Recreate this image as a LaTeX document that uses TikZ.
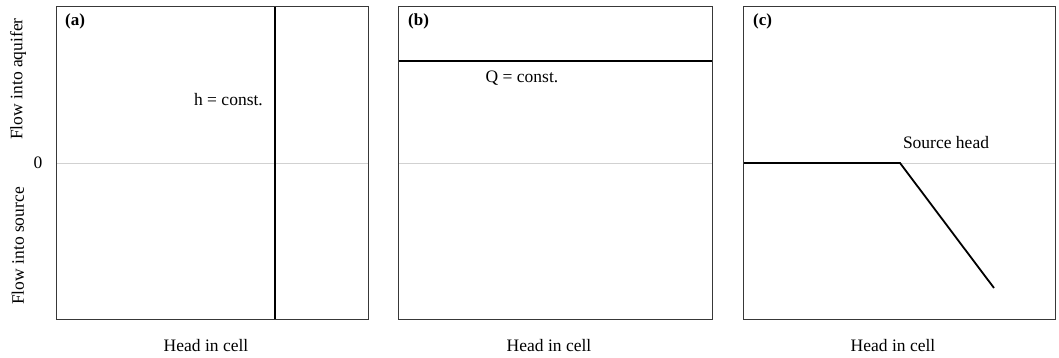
\documentclass[tikz,border=0pt]{standalone}
\usepackage{fontspec}
\setmainfont{Liberation Serif}
\begin{document}
\begin{tikzpicture}[x=1pt,y=-1pt,
  panel/.style={draw=black!78,line width=1pt},
  zeroline/.style={draw=black!18,line width=0.9pt},
  curve/.style={draw=black,line width=1.8pt},
  lbl/.style={font=\fontsize{17.5}{20}\selectfont,inner sep=0pt},
  tag/.style={font=\fontsize{17}{20}\selectfont\bfseries,inner sep=0pt,anchor=north west}]
\useasboundingbox (0,0) rectangle (1059,358);
% panel a
\coordinate (a1) at (56,7); \coordinate (a2) at (368,319);
\coordinate (aZl) at (56,163); \coordinate (aZr) at (368,163);
\draw[zeroline] (aZl) -- (aZr);
\coordinate (hT) at (275,7); \coordinate (hB) at (275,319);
\draw[curve] (hT) -- (hB);
\draw[panel] (a1) rectangle (a2);
\node[tag] (ta) at (65,14) {(a)};
\node[lbl,anchor=east] (hc) at (263,100) {h = const.};
\node[lbl] (xa) at (206,346) {Head in cell};
% panel b
\coordinate (b1) at (398,7); \coordinate (b2) at (712,319);
\coordinate (bZl) at (398,163); \coordinate (bZr) at (712,163);
\draw[zeroline] (bZl) -- (bZr);
\coordinate (qL) at (398,61); \coordinate (qR) at (712,61);
\draw[curve] (qL) -- (qR);
\draw[panel] (b1) rectangle (b2);
\node[tag] (tb) at (408,14) {(b)};
\node[lbl] (qc) at (522,78) {Q = const.};
\node[lbl] (xb) at (549,346) {Head in cell};
% panel c
\coordinate (c1) at (743,7); \coordinate (c2) at (1055,319);
\coordinate (cZl) at (743,163); \coordinate (cZr) at (1055,163);
\draw[zeroline] (cZl) -- (cZr);
\coordinate (k) at (900,163); \coordinate (e) at (994,288);
\draw[curve,line join=miter] (cZl) -- (k) -- (e);
\draw[panel] (c1) rectangle (c2);
\node[tag] (tc) at (753,14) {(c)};
\node[lbl] (sh) at (946,143) {Source head};
\node[lbl] (xc) at (893,346) {Head in cell};
% y axis labels
\node[lbl] (zero) at (38,163) {0};
\node[lbl,rotate=90] (ya) at (18,79) {Flow into aquifer};
\node[lbl,rotate=90] (ys) at (18,246) {Flow into source};
\end{tikzpicture}
\end{document}
